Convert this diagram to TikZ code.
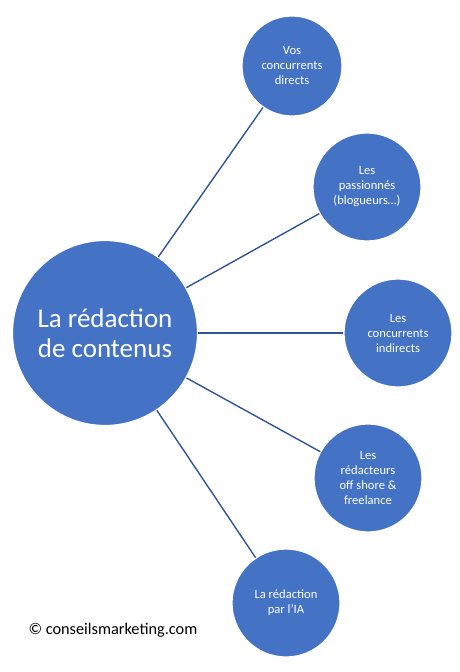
\documentclass[tikz,border=0pt]{standalone}
\usepackage{fontspec}
\setmainfont{Carlito}
\definecolor{bulle}{RGB}{68,114,196}
\definecolor{trait}{RGB}{47,85,151}
\begin{document}
\begin{tikzpicture}[x=1pt,y=-1pt,
  bulle/.style={circle,fill=bulle,draw=white,line width=1.2pt,text=white,align=center,inner sep=0pt,minimum size=108pt,font=\fontsize{12.6}{15}\selectfont},
  lien/.style={draw=trait,line width=1.4pt}]

        \useasboundingbox (0,0) rectangle (459,672);

        \node[bulle,minimum size=185pt,font=\fontsize{27}{30}\selectfont] (centre) at (105,333) {La rédaction\\de contenus};

        \node[bulle,minimum size=100pt] (directs) at (292,66) {Vos\\concurrents\\directs};
        \node[bulle] (passionnes) at (367,187) {Les\\passionnés\\(blogueurs…)};
        \node[bulle] (indirects) at (398,333) {Les\\concurrents\\indirects};
        \node[bulle] (redacteurs) at (368,478) {Les\\rédacteurs\\off shore \&\\freelance};
        \node[bulle] (ia) at (286,603) {La rédaction\\par l’IA};

        \draw[lien] (centre) -- (directs);
        \draw[lien] (centre) -- (passionnes);
        \draw[lien] (centre) -- (indirects);
        \draw[lien] (centre) -- (redacteurs);
        \draw[lien] (centre) -- (ia);

        \node[anchor=west,font=\fontsize{16.3}{19}\selectfont] (credit) at (25,630) {© conseilsmarketing.com};

\end{tikzpicture}
\end{document}
